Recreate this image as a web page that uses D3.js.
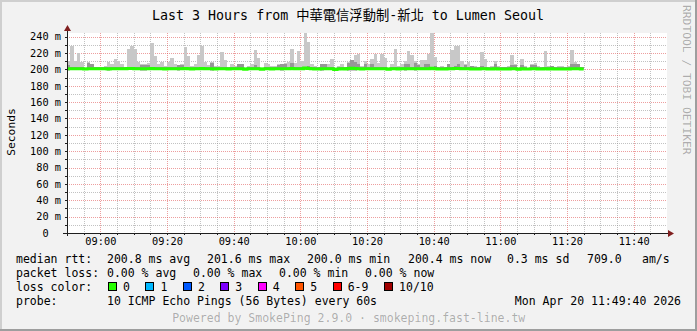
<!DOCTYPE html>
<html>
<head>
<meta charset="utf-8">
<script src="https://cdn.jsdelivr.net/npm/d3@7"></script>
<style>
  html, body { margin: 0; padding: 0; background: #f2f2f2; }
  svg { display: block; }
  text { font-family: "DejaVu Sans Mono", "Noto Sans CJK TC", monospace; white-space: pre; }
</style>
</head>
<body>
<svg id="chart" width="697" height="331"></svg>
<script>
// smokeping "Last 3 Hours" graph, one column per 60s step starting 08:50

var title = "Last 3 Hours from 中華電信浮動制-新北 to Lumen Seoul";
var yLabel = "Seconds";
var watermark = "RRDTOOL / TOBI OETIKER";
var footer = "Powered by SmokePing 2.9.0 · smokeping.fast-line.tw";

// ms, upper edge of the smoke (slowest ping)
var smokeMax = [
  210,228,210,220,209,202,209,207,203,203,
  203,204,209,206,213,210,206,203,225,229,
  225,209,206,207,208,232,216,206,209,204,
  209,214,206,205,207,227,216,204,206,218,
  229,209,205,209,204,204,221,212,203,206,
  204,207,207,202,204,206,224,214,201,208,
  206,204,204,206,207,208,209,225,208,222,
  210,245,234,206,204,203,206,207,207,213,
  201,204,207,203,209,212,217,219,204,210,
  207,213,219,208,219,214,202,206,225,204,
  206,210,223,218,210,206,211,211,219,245,
  215,203,204,203,207,224,229,229,210,206,
  209,204,204,203,221,213,203,204,210,204,
  203,203,204,218,207,201,213,204,202,206,
  208,204,203,222,204,204,203,204,204,203,
  204,224,209,206,203
];

// ms, upper edge of the dense (darker) part of the smoke
var smokeInner = [
  205,203,203,203,203,202,208,206,203,203,
  203,203,203,203,203,203,203,203,203,203,
  203,203,205,205,205,203,203,203,203,203,
  203,203,203,205,205,203,203,203,203,203,
  203,203,203,208,203,203,203,203,203,203,
  203,207,206,202,203,203,205,203,201,203,
  203,203,203,205,207,206,203,208,203,203,
  203,203,204,203,203,203,206,206,203,203,
  201,203,203,203,208,212,209,206,203,206,
  203,207,203,203,203,203,202,203,203,203,
  203,207,206,203,208,205,203,206,206,203,
  204,203,203,203,207,203,204,207,203,205,
  203,204,203,203,204,203,203,203,206,203,
  203,203,203,205,205,201,205,203,202,205,
  205,203,203,203,203,204,203,203,203,203,
  203,206,207,206,203
];

// ms, median rtt
var medianRtt = [
  200.9,200.8,200.8,200.7,200.9,200.4,200.8,200.9,200.8,200.7,
  200.8,200.8,200.5,200.8,200.9,200.8,200.7,200.8,201.0,201.1,
  200.9,200.8,200.7,200.8,200.9,201.0,200.8,200.7,200.8,200.6,
  200.8,200.9,200.8,200.7,200.9,201.0,200.8,200.6,200.8,200.9,
  201.1,200.8,200.7,200.9,200.6,200.7,200.9,200.8,200.5,200.8,
  200.7,200.9,200.8,200.3,200.7,200.8,200.9,200.8,200.2,200.8,
  200.7,200.6,200.7,200.8,200.9,200.8,200.8,201.0,200.7,200.9,
  200.8,201.6,201.2,200.8,200.6,200.5,200.8,200.8,200.7,200.9,
  200.0,200.6,200.8,200.6,201.0,201.3,201.2,200.9,200.6,200.8,
  200.8,200.9,200.8,200.7,200.9,200.8,200.3,200.7,200.9,200.6,
  200.7,200.9,200.9,200.8,200.9,200.8,200.8,200.9,200.9,201.4,
  200.8,200.5,200.6,200.5,200.8,200.9,201.0,201.0,200.8,200.7,
  200.8,200.6,200.6,200.5,200.8,200.7,200.5,200.6,200.8,200.6,
  200.5,200.5,200.6,200.8,200.7,200.2,200.8,200.6,200.4,200.7,
  200.8,200.6,200.5,200.8,200.6,200.7,200.5,200.6,200.6,200.5,
  200.6,200.9,200.8,200.7,200.4
];

// ms, fastest ping
var smokeMin = [
  198.6,198.9,199.0,198.8,199.2,199.5,198.7,198.8,199.3,199.1,
  199.2,199.0,198.6,199.1,198.9,199.0,199.2,199.4,198.8,198.7,
  198.9,199.0,198.5,198.6,198.7,199.0,199.1,199.2,198.9,199.3,
  199.0,198.8,199.1,198.6,198.7,198.9,199.0,199.2,198.8,199.0,
  198.9,199.1,199.2,198.6,199.3,199.2,198.9,199.0,199.4,199.1,
  199.2,198.7,198.8,199.5,199.1,199.0,198.8,199.0,199.6,199.1,
  199.2,199.3,199.1,198.7,198.6,198.8,199.1,198.7,199.0,198.9,
  199.1,198.9,198.7,199.0,199.2,199.4,198.6,198.7,199.1,199.0,
  199.6,199.2,199.0,199.3,198.5,198.4,198.6,198.8,199.2,198.9,
  199.0,198.8,199.1,199.2,199.0,198.9,199.5,199.1,198.9,199.2,
  199.0,198.6,198.7,199.0,198.6,198.8,199.1,198.7,198.8,198.9,
  198.9,199.3,199.2,199.3,198.7,199.0,198.8,198.7,199.1,198.9,
  199.0,199.2,199.3,199.4,198.9,199.0,199.3,199.2,198.7,199.2,
  199.3,199.3,199.2,198.8,198.8,199.6,198.9,199.2,199.4,198.8,
  198.8,199.2,199.3,199.0,199.2,198.9,199.3,199.2,199.2,199.3,
  199.2,198.8,198.7,198.8,199.3
];

var medianStats = ["200.8 ms avg", "201.6 ms max", "200.0 ms min", "200.4 ms now", "0.3 ms sd", "709.0", "am/s"];
var lossStats = ["0.00 % avg", "0.00 % max", "0.00 % min", "0.00 % now"];
var lossLabels = ["0", "1", "2", "3", "4", "5", "6-9", "10/10"];
var lossColors = ["#26ff00", "#00b8ff", "#0059ff", "#7e00ff", "#ff00ff", "#ff5500", "#ff0000", "#a00000"];
var probeText = "10 ICMP Echo Pings (56 Bytes) every 60s";
var stampText = "Mon Apr 20 11:49:40 2026";

var viewStart = new Date(2026, 3, 20, 8, 50, 0);
var viewEnd = new Date(2026, 3, 20, 11, 50, 0);
var yTop = 244.5;

var svg = d3.select("#chart");
var W = 697, H = 331;
var X0 = 67, X1 = 667, Y0 = 233, Y1 = 33;
var cw = 6.95; // legend char advance

var x = d3.scaleTime().domain([viewStart, viewEnd]).range([X0, X1]);
var y = d3.scaleLinear().domain([0, yTop]).range([Y0, Y1]);

// background + 3d frame
svg.append("rect").attr("width", W).attr("height", H).attr("fill", "#f2f2f2");
svg.append("path").attr("d", "M1,331V1H697").attr("fill", "none").attr("stroke", "#cfcfcf").attr("stroke-width", 2);
svg.append("path").attr("d", "M0,330H696V0").attr("fill", "none").attr("stroke", "#9e9e9e").attr("stroke-width", 2);

svg.append("rect").attr("x", X0).attr("y", Y1).attr("width", X1 - X0).attr("height", Y0 - Y1).attr("fill", "#ffffff");

function px(v) { return Math.round(v) + 0.5; }

// grid
var grid = svg.append("g").attr("stroke-dasharray", "1,1").attr("shape-rendering", "crispEdges");
var minorX = d3.timeMinute.every(5).range(viewStart, viewEnd).filter(function (t) { return t.getMinutes() % 20 !== 0; });
var majorX = d3.timeMinute.every(20).range(viewStart, viewEnd);
var minorY = d3.range(10, yTop, 20);
var majorY = d3.range(20, yTop, 20);

grid.selectAll(".mx").data(minorX).enter().append("line")
  .attr("x1", function (d) { return px(x(d)); }).attr("x2", function (d) { return px(x(d)); })
  .attr("y1", Y1).attr("y2", Y0)
  .attr("stroke", "rgba(143,143,143,0.55)");
grid.selectAll(".my").data(minorY).enter().append("line")
  .attr("y1", function (d) { return px(y(d)); }).attr("y2", function (d) { return px(y(d)); })
  .attr("x1", X0).attr("x2", X1)
  .attr("stroke", "rgba(143,143,143,0.55)");
grid.selectAll(".Mx").data(majorX).enter().append("line")
  .attr("x1", function (d) { return px(x(d)); }).attr("x2", function (d) { return px(x(d)); })
  .attr("y1", Y1).attr("y2", Y0)
  .attr("stroke", "rgba(222,79,79,0.55)");
grid.selectAll(".My").data(majorY).enter().append("line")
  .attr("y1", function (d) { return px(y(d)); }).attr("y2", function (d) { return px(y(d)); })
  .attr("x1", X0).attr("x2", X1)
  .attr("stroke", "rgba(222,79,79,0.55)");

// smoke
var steps = smokeMax.map(function (v, i) {
  return {
    t0: d3.timeMinute.offset(viewStart, i),
    t1: d3.timeMinute.offset(viewStart, i + 1),
    max: v, inner: smokeInner[i], min: smokeMin[i], median: medianRtt[i]
  };
});

var smoke = svg.append("g").attr("shape-rendering", "crispEdges");
smoke.selectAll(".outer").data(steps).enter().append("rect")
  .attr("x", function (d) { return Math.round(x(d.t0)); })
  .attr("width", function (d) { return Math.round(x(d.t1)) - Math.round(x(d.t0)); })
  .attr("y", function (d) { return Math.round(y(Math.min(d.max, yTop))); })
  .attr("height", function (d) { return Math.round(y(d.min)) - Math.round(y(Math.min(d.max, yTop))); })
  .attr("fill", "#c8c8c8");
smoke.selectAll(".inner").data(steps).enter().append("rect")
  .attr("x", function (d) { return Math.round(x(d.t0)); })
  .attr("width", function (d) { return Math.round(x(d.t1)) - Math.round(x(d.t0)); })
  .attr("y", function (d) { return Math.round(y(d.inner)); })
  .attr("height", function (d) { return Math.max(0, Math.round(y(200)) - Math.round(y(d.inner))); })
  .attr("fill", "#979797");

// median line, coloured by loss (0 everywhere)
var medPts = steps.map(function (d) { return [d.t0, d.median]; });
medPts.push([steps[steps.length - 1].t1, steps[steps.length - 1].median]);
var medLine = d3.line()
  .x(function (d) { return x(d[0]); })
  .y(function (d) { return y(d[1]); })
  .curve(d3.curveStepAfter);
svg.append("path").datum(medPts)
  .attr("d", medLine)
  .attr("fill", "none")
  .attr("stroke", lossColors[0])
  .attr("stroke-width", 3);

// axes
var axisCol = "#1f1f1f", arrowCol = "#801f1f";
var ticks = svg.append("g").attr("stroke", axisCol).attr("shape-rendering", "crispEdges");
ticks.selectAll(".tx").data(minorX.concat(majorX)).enter().append("line")
  .attr("x1", function (d) { return px(x(d)); }).attr("x2", function (d) { return px(x(d)); })
  .attr("y1", Y0).attr("y2", Y0 + 2);
ticks.selectAll(".ty").data(majorY.concat(minorY)).enter().append("line")
  .attr("y1", function (d) { return px(y(d)); }).attr("y2", function (d) { return px(y(d)); })
  .attr("x1", X0 - 2).attr("x2", X0);
svg.append("line").attr("x1", X0 - 4).attr("x2", X1 + 2).attr("y1", Y0 + 0.5).attr("y2", Y0 + 0.5)
  .attr("stroke", axisCol).attr("shape-rendering", "crispEdges");
svg.append("line").attr("x1", X0 + 0.5).attr("x2", X0 + 0.5).attr("y1", Y0 + 3).attr("y2", Y1 - 3)
  .attr("stroke", axisCol).attr("shape-rendering", "crispEdges");
svg.append("path").attr("d", "M" + (X0 + 0.5) + "," + (Y1 - 8) + "l3.5,6h-7z").attr("fill", arrowCol);
svg.append("path").attr("d", "M" + (X1 + 7) + "," + (Y0 + 0.5) + "l-6,-3.5v7z").attr("fill", arrowCol);

var xAxis = d3.axisBottom(x)
  .ticks(d3.timeMinute.every(20))
  .tickFormat(d3.timeFormat("%H:%M"))
  .tickSize(0).tickPadding(5);
var gx = svg.append("g").attr("transform", "translate(0," + Y0 + ")").call(xAxis);
gx.select(".domain").remove();
gx.selectAll("text").attr("font-family", null).attr("font-size", "10.3px").attr("fill", "#000");

var yAxis = d3.axisLeft(y)
  .tickValues(d3.range(0, yTop, 20))
  .tickFormat(function (d) { return d === 0 ? "0  " : d + " m"; })
  .tickSize(0).tickPadding(6);
var gy = svg.append("g").attr("transform", "translate(" + X0 + ",0)").call(yAxis);
gy.select(".domain").remove();
gy.selectAll("text").attr("font-family", null).attr("font-size", "10.3px").attr("fill", "#000");

// titles
svg.append("text").attr("x", 348).attr("y", 19.5).attr("text-anchor", "middle")
  .attr("font-size", "13.3px").attr("fill", "#000").text(title);
svg.append("text").attr("transform", "translate(15,132) rotate(-90)").attr("text-anchor", "middle")
  .attr("font-size", "11.3px").attr("fill", "#000").text(yLabel);
svg.append("text").attr("transform", "translate(683,5) rotate(90)")
  .attr("font-size", "11.3px").attr("fill", "#000").attr("fill-opacity", 0.3).text(watermark);

// legend
var lg = svg.append("g").attr("font-size", "11.5px").attr("fill", "#000");
var LX = 16, VX = 107;
lg.append("text").attr("x", LX).attr("y", 263).text("median rtt:");
var medX = [107, 207, 307, 408, 507, 587, 642];
medianStats.forEach(function (s, i) { lg.append("text").attr("x", medX[i]).attr("y", 263).text(s); });

lg.append("text").attr("x", LX).attr("y", 277).text("packet loss:");
var lossX = [107, 193, 279, 365];
lossStats.forEach(function (s, i) { lg.append("text").attr("x", lossX[i]).attr("y", 277).text(s); });

lg.append("text").attr("x", LX).attr("y", 291).text("loss color:");
var bx = 108;
lossLabels.forEach(function (s, i) {
  lg.append("rect").attr("x", bx + 0.5).attr("y", 282.5).attr("width", 8).attr("height", 8)
    .attr("fill", lossColors[i]).attr("stroke", "#000").attr("shape-rendering", "crispEdges");
  lg.append("text").attr("x", bx + 15).attr("y", 291).text(s);
  bx += 15 + s.length * cw + 15.5;
});

lg.append("text").attr("x", LX).attr("y", 305).text("probe:");
lg.append("text").attr("x", VX).attr("y", 305).text(probeText);
lg.append("text").attr("x", 681).attr("y", 305).attr("text-anchor", "end").text(stampText);

svg.append("text").attr("x", 348.7).attr("y", 322).attr("text-anchor", "middle")
  .attr("font-size", "11.5px").attr("fill", "#000").attr("fill-opacity", 0.3).text(footer);
</script>
</body>
</html>
